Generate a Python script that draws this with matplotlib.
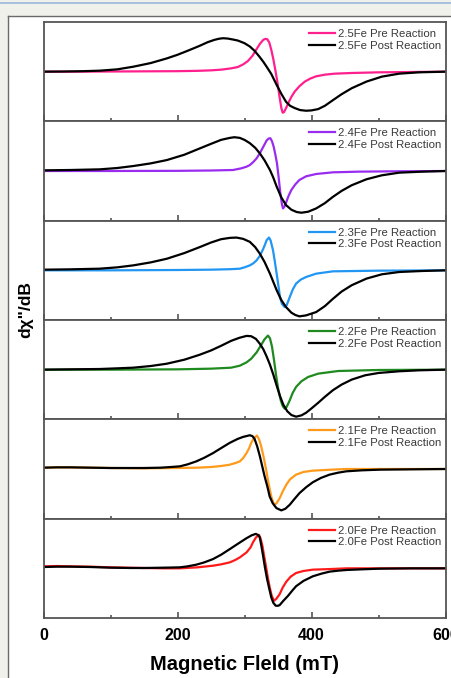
import matplotlib
matplotlib.use("Agg")
import matplotlib.pyplot as plt
from matplotlib.patches import Rectangle
from matplotlib.lines import Line2D
from matplotlib.ticker import MultipleLocator

plt.rcParams['font.family'] = ['Liberation Sans', 'DejaVu Sans']

# ---- EPR derivative spectra (arbitrary units, baseline = 0) ----
labels = ["2.5Fe", "2.4Fe", "2.3Fe", "2.2Fe", "2.1Fe", "2.0Fe"]
pre_colors = ["#ff1f8e", "#9a2cf0", "#2196f3", "#1f8a1f", "#ff9a1a", "#ff1a1a"]

field_25_pre = [0, 50, 100, 150, 200, 230, 250, 265, 280, 290, 298, 305, 312, 318, 323, 328, 331, 334, 337, 340, 343, 346, 349, 352, 355, 357, 359, 362, 366, 370, 375, 382, 390, 398, 407, 420, 435, 460, 500, 550, 600]
amp_25_pre = [0.0, 0.0, 0.005, 0.01, 0.015, 0.025, 0.04, 0.06, 0.10, 0.14, 0.22, 0.32, 0.48, 0.68, 0.84, 0.96, 0.99, 0.98, 0.88, 0.66, 0.38, 0.05, -0.30, -0.72, -1.10, -1.24, -1.22, -1.10, -0.92, -0.76, -0.60, -0.44, -0.30, -0.21, -0.14, -0.09, -0.06, -0.04, -0.02, -0.01, 0.0]
field_25_post = [0, 30, 60, 84, 110, 134, 160, 184, 200, 215, 233, 245, 255, 262, 268, 275, 283, 290, 300, 308, 315, 322, 328, 333, 340, 348, 355, 362, 368, 375, 383, 392, 400, 410, 420, 432, 445, 460, 482, 505, 531, 560, 600]
amp_25_post = [0.0, 0.005, 0.015, 0.03, 0.07, 0.15, 0.26, 0.40, 0.51, 0.63, 0.78, 0.89, 0.96, 0.995, 1.01, 1.0, 0.97, 0.94, 0.86, 0.76, 0.63, 0.46, 0.30, 0.15, -0.07, -0.40, -0.67, -0.91, -1.03, -1.10, -1.16, -1.18, -1.17, -1.13, -1.03, -0.86, -0.68, -0.50, -0.30, -0.15, -0.06, -0.02, 0.0]

field_24_pre = [0, 100, 200, 250, 283, 295, 303, 308, 313, 318, 323, 328, 333, 336, 338.6, 341, 343.6, 346, 348.5, 351, 353.5, 356, 357.5, 359.5, 362.5, 366, 370, 376, 382, 392, 407, 432, 470, 520, 600]
amp_24_pre = [0.0, 0.0, 0.005, 0.015, 0.03, 0.08, 0.13, 0.18, 0.27, 0.38, 0.54, 0.73, 0.92, 0.98, 0.99, 0.90, 0.73, 0.50, 0.23, -0.20, -0.67, -1.02, -1.13, -1.08, -0.93, -0.74, -0.57, -0.40, -0.27, -0.16, -0.09, -0.04, -0.02, -0.01, 0.0]
field_24_post = [0, 40, 84, 110, 134, 160, 184, 210, 233, 250, 265, 278, 285, 293, 300, 308, 316, 323, 330, 338, 343, 348, 355, 362, 370, 378, 385, 395, 407, 420, 432, 445, 460, 482, 505, 531, 565, 600]
amp_24_post = [0.02, 0.03, 0.05, 0.09, 0.15, 0.23, 0.33, 0.49, 0.68, 0.82, 0.94, 1.0, 1.02, 1.0, 0.94, 0.84, 0.70, 0.53, 0.32, 0.03, -0.20, -0.47, -0.80, -1.03, -1.17, -1.24, -1.26, -1.23, -1.13, -0.97, -0.78, -0.60, -0.43, -0.25, -0.13, -0.05, -0.02, 0.0]

field_23_pre = [0, 100, 200, 250, 280, 293, 300, 308, 313, 318, 323, 328, 331, 333, 336.6, 339, 342.6, 345, 348, 350.5, 353, 356, 360, 363, 367.5, 372, 377, 384, 392, 407, 432, 500, 600]
amp_23_pre = [0.0, 0.0, 0.01, 0.02, 0.035, 0.05, 0.09, 0.15, 0.21, 0.30, 0.44, 0.65, 0.80, 0.91, 0.99, 0.90, 0.60, 0.30, -0.10, -0.45, -0.81, -1.02, -1.11, -1.05, -0.81, -0.58, -0.40, -0.28, -0.20, -0.10, -0.03, -0.01, 0.0]
field_23_post = [0, 40, 84, 110, 134, 160, 184, 210, 233, 250, 265, 278, 288, 298, 308, 316, 323, 330, 338, 343, 348, 355, 362, 370, 376, 382, 392, 407, 420, 432, 445, 460, 482, 505, 531, 565, 600]
amp_23_post = [0.02, 0.03, 0.05, 0.09, 0.15, 0.24, 0.35, 0.52, 0.70, 0.84, 0.94, 0.98, 0.99, 0.95, 0.86, 0.70, 0.50, 0.25, -0.10, -0.35, -0.60, -0.90, -1.11, -1.28, -1.35, -1.39, -1.36, -1.26, -1.08, -0.86, -0.64, -0.45, -0.25, -0.12, -0.05, -0.02, 0.0]

field_22_pre = [0, 100, 200, 250, 280, 293, 303, 310, 318, 325, 330, 335, 338, 341, 344, 347, 350, 354, 357, 360, 363, 367, 372, 377, 385, 395, 410, 440, 500, 600]
amp_22_pre = [0.0, 0.0, 0.01, 0.03, 0.06, 0.12, 0.22, 0.33, 0.52, 0.75, 0.92, 1.03, 0.95, 0.70, 0.30, -0.15, -0.55, -0.92, -1.10, -1.18, -1.12, -0.95, -0.70, -0.52, -0.35, -0.22, -0.12, -0.04, -0.01, 0.0]
field_22_post = [0, 40, 84, 110, 134, 160, 184, 210, 233, 250, 265, 280, 292, 303, 310, 317, 323, 328, 333, 338, 343, 348, 353, 358, 364, 370, 377, 385, 392, 400, 410, 420, 432, 445, 460, 480, 500, 530, 560, 600]
amp_22_post = [0.0, 0.01, 0.02, 0.04, 0.06, 0.11, 0.18, 0.30, 0.45, 0.58, 0.72, 0.87, 0.96, 1.02, 1.01, 0.93, 0.78, 0.62, 0.40, 0.15, -0.15, -0.48, -0.80, -1.06, -1.26, -1.37, -1.42, -1.38, -1.30, -1.17, -1.00, -0.82, -0.62, -0.45, -0.30, -0.17, -0.10, -0.05, -0.02, 0.0]

field_21_pre = [0, 20, 40, 70, 100, 150, 200, 230, 250, 265, 278, 288, 293, 298, 303, 307, 310, 314, 318.7, 322, 325, 329, 332.7, 336, 340, 343, 345, 348, 352.5, 357, 362.5, 368, 377, 388, 402, 430, 452, 600]
amp_21_pre = [0.04, 0.05, 0.05, 0.04, 0.03, 0.02, 0.03, 0.04, 0.06, 0.09, 0.13, 0.19, 0.23, 0.33, 0.48, 0.63, 0.79, 0.93, 1.01, 0.88, 0.68, 0.32, -0.07, -0.45, -0.83, -1.02, -1.08, -1.03, -0.88, -0.68, -0.47, -0.31, -0.17, -0.09, -0.05, -0.02, 0.0, 0.0]
field_21_post = [0, 20, 40, 70, 100, 130, 150, 175, 190, 203.5, 215, 228, 240, 253, 265, 278, 290, 298, 308, 312, 315, 319, 323, 326.5, 330, 334, 337.6, 342, 347.6, 355, 361, 367.5, 374, 382, 392, 402, 414, 427, 440, 452, 475, 502, 550, 600]
amp_21_post = [0.04, 0.05, 0.05, 0.04, 0.03, 0.03, 0.03, 0.04, 0.06, 0.08, 0.14, 0.23, 0.34, 0.48, 0.63, 0.79, 0.91, 0.97, 1.02, 0.99, 0.91, 0.68, 0.38, 0.08, -0.22, -0.52, -0.83, -1.03, -1.18, -1.25, -1.20, -1.08, -0.92, -0.73, -0.55, -0.40, -0.27, -0.17, -0.11, -0.07, -0.04, -0.02, -0.01, 0.0]

field_20_pre = [0, 20, 40, 70, 100, 150, 180, 203.5, 230, 253, 265, 278, 286, 293, 303, 309, 312.8, 317, 321.7, 324, 326.7, 329.5, 332.7, 335, 337.6, 340.5, 344, 347.5, 352.5, 357, 362.5, 369, 377, 388, 402, 430, 452, 600]
amp_20_pre = [0.06, 0.07, 0.06, 0.05, 0.03, 0.01, 0.0, 0.0, 0.03, 0.08, 0.12, 0.18, 0.25, 0.33, 0.48, 0.63, 0.79, 0.93, 1.01, 0.90, 0.68, 0.35, -0.02, -0.30, -0.57, -0.82, -0.98, -0.92, -0.78, -0.58, -0.40, -0.25, -0.14, -0.08, -0.04, -0.02, 0.0, 0.0]
field_20_post = [0, 20, 40, 70, 100, 130, 150, 180, 203.5, 215, 228, 240, 253, 265, 278, 290, 303, 311, 316.8, 320, 322.7, 325, 327.7, 330.5, 333.7, 337, 340, 343, 346.6, 350, 352.5, 358, 365, 371, 377, 388, 402, 415, 427, 440, 452, 475, 502, 550, 600]
amp_20_post = [0.04, 0.05, 0.05, 0.04, 0.02, 0.01, 0.01, 0.02, 0.03, 0.06, 0.11, 0.18, 0.28, 0.41, 0.58, 0.74, 0.91, 1.0, 1.04, 1.01, 0.94, 0.70, 0.38, 0.03, -0.32, -0.62, -0.88, -1.04, -1.13, -1.13, -1.11, -0.98, -0.83, -0.68, -0.54, -0.38, -0.24, -0.16, -0.10, -0.07, -0.05, -0.03, -0.01, 0.0, 0.0]

pre_fields = [field_25_pre, field_24_pre, field_23_pre, field_22_pre, field_21_pre, field_20_pre]
pre_amps = [amp_25_pre, amp_24_pre, amp_23_pre, amp_22_pre, amp_21_pre, amp_20_pre]
post_fields = [field_25_post, field_24_post, field_23_post, field_22_post, field_21_post, field_20_post]
post_amps = [amp_25_post, amp_24_post, amp_23_post, amp_22_post, amp_21_post, amp_20_post]

x_ticks = [0, 200, 400, 600]

W, H = 451, 678
fig = plt.figure(figsize=(W / 100, H / 100), dpi=100)
fig.patch.set_facecolor("#f1f1ec")

# page frame behind the plot
fig.add_artist(Rectangle((0, 1 - 3.5 / H), 1, 1.2 / H, transform=fig.transFigure,
                         facecolor="#a9c1de", edgecolor="none", zorder=0))
fig.add_artist(Rectangle((8 / W, 0), 1, (H - 16) / H, transform=fig.transFigure,
                         facecolor="white", edgecolor="none", zorder=0))
fig.add_artist(Line2D([8 / W, 8 / W], [0, (H - 16) / H], transform=fig.transFigure,
                      color="#6a6a6a", lw=1.0, zorder=1))
fig.add_artist(Line2D([8 / W, 1], [(H - 16) / H, (H - 16) / H], transform=fig.transFigure,
                      color="#6a6a6a", lw=1.0, zorder=1))

left_px, right_px, top_px, bottom_px = 43.5, 445.5, 22, 618
panel_h = (bottom_px - top_px) / 6
spine_col = "#555555"

for i in range(6):
    y_top = top_px + i * panel_h
    ax = fig.add_axes([left_px / W, 1 - (y_top + panel_h) / H,
                       (right_px - left_px) / W, panel_h / H])
    ax.plot(pre_fields[i], pre_amps[i], color=pre_colors[i], lw=1.6,
            label=f"{labels[i]} Pre Reaction", solid_joinstyle="round")
    ax.plot(post_fields[i], post_amps[i], color="black", lw=1.6,
            label=f"{labels[i]} Post Reaction", solid_joinstyle="round")
    ax.set_xlim(0, 600)
    ax.set_ylim(-1.5, 1.5)
    ax.set_yticks([])
    ax.xaxis.set_major_locator(MultipleLocator(200))
    ax.xaxis.set_minor_locator(MultipleLocator(100))
    ax.tick_params(axis="x", which="major", direction="in", length=4.5, width=1.2,
                   color=spine_col, top=False)
    ax.tick_params(axis="x", which="minor", direction="in", length=2.5, width=1.2,
                   color=spine_col, top=False)
    for s in ax.spines.values():
        s.set_color(spine_col)
        s.set_linewidth(1.3)
    if i < 5:
        ax.tick_params(axis="x", which="both", labelbottom=False)
    else:
        ax.set_xticks(x_ticks)
        ax.set_xticklabels([str(v) for v in x_ticks], fontsize=11.5, fontweight="bold")
        ax.tick_params(axis="x", pad=7)
        ax.set_xlabel("Magnetic Fleld (mT)", fontsize=14.5, fontweight="bold", labelpad=9)
    leg = ax.legend(loc="upper right", bbox_to_anchor=(0.997, 0.965), frameon=False,
                    fontsize=8.2, handlelength=2.3, handletextpad=0.2, labelspacing=0.15,
                    borderaxespad=0.1, borderpad=0.2)
    for t in leg.get_texts():
        t.set_color("#3a3a3a")

fig.text(25.5 / W, 1 - 310 / H, "d\u03c7\"/dB", rotation=90, fontsize=12.5,
         fontweight="bold", ha="center", va="center")

fig.savefig("out.png", dpi=100, facecolor=fig.get_facecolor())
